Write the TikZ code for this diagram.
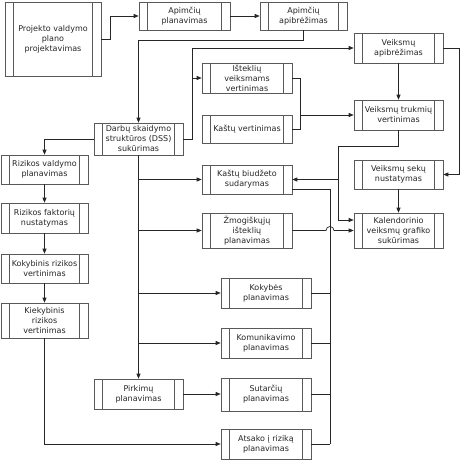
\documentclass[tikz,border=0pt]{standalone}
\usepackage{fontspec}
\setmainfont{DejaVu Sans}
\usetikzlibrary{arrows.meta,shadows}
\begin{document}
\begin{tikzpicture}[x=1pt,y=-1pt,
  proc/.style={draw=black!65, fill=white, line width=0.6pt, align=center, inner sep=1pt,
    text=black!85, font=\fontsize{8}{10}\selectfont,
    drop shadow={shadow xshift=0.8pt,shadow yshift=-0.8pt,fill=black!30,opacity=1},
    path picture={\draw[black!65, line width=0.6pt]
      ([xshift=8.5pt]path picture bounding box.north west) -- ([xshift=8.5pt]path picture bounding box.south west)
      ([xshift=-8.5pt]path picture bounding box.north east) -- ([xshift=-8.5pt]path picture bounding box.south east);}},
  sz/.style 2 args={minimum width=#1pt, minimum height=#2pt},
  conn/.style={draw=black!85, line width=0.7pt},
  arr/.style={conn, -{Triangle[length=5pt,width=4pt]}}]
\useasboundingbox (0,0) rectangle (460,460);

% nodes
\node[proc, sz={96}{74}] (proj) at (53,39) {Projekto valdymo\\plano\\projektavimas};
\node[proc, sz={91}{28}] (apl) at (184.5,16) {Apimčių\\planavimas};
\node[proc, sz={87}{28}] (apb) at (303.5,16) {Apimčių\\apibrėžimas};
\node[proc, sz={89}{32}] (dss) at (138.5,139) {Darbų skaidymo\\struktūros (DSS)\\sukūrimas};
\node[proc, sz={90}{30}] (ist) at (247,78) {Išteklių\\veiksmams\\vertinimas};
\node[proc, sz={90}{28}] (kv) at (247,129) {Kaštų vertinimas};
\node[proc, sz={89}{30}] (va) at (398.5,48) {Veiksmų\\apibrėžimas};
\node[proc, sz={89}{30}] (vt) at (398.5,115) {Veiksmų trukmių\\vertinimas};
\node[proc, sz={89}{29}] (vs) at (398.5,174.5) {Veiksmų sekų\\nustatymas};
\node[proc, sz={89}{35}] (kal) at (398.5,230.5) {Kalendorinio\\veiksmų grafiko\\sukūrimas};
\node[proc, sz={90}{29}] (kb) at (247,179.5) {Kaštų biudžeto\\sudarymas};
\node[proc, sz={90}{35}] (zm) at (247,230.5) {Žmogiškųjų\\išteklių\\planavimas};
\node[proc, sz={90}{30}] (kok) at (266,293) {Kokybės\\planavimas};
\node[proc, sz={90}{30}] (kom) at (266,343) {Komunikavimo\\planavimas};
\node[proc, sz={90}{33}] (sut) at (266,394.5) {Sutarčių\\planavimas};
\node[proc, sz={90}{30}] (ats) at (266,444) {Atsako į riziką\\planavimas};
\node[proc, sz={89}{30}] (pir) at (138.5,394) {Pirkimų\\planavimas};
\node[proc, sz={87}{29}] (rv) at (44.5,169.5) {Rizikos valdymo\\planavimas};
\node[proc, sz={87}{30}] (rf) at (44.5,218) {Rizikos faktorių\\nustatymas};
\node[proc, sz={87}{29}] (rk) at (44.5,268.5) {Kokybinis rizikos\\vertinimas};
\node[proc, sz={87}{35}] (rq) at (44.5,320.5) {Kiekybinis\\rizikos\\vertinimas};

% junction coordinates
\coordinate (jd) at (192,139);
\coordinate (ji) at (192,78);
\coordinate (jm) at (300,115);
\coordinate (jc) at (338,179.5);
\coordinate (bt) at (330,189);
\coordinate (bb) at (330,444);

% connectors
\draw[arr] (proj.east) -- ++(9,0) |- (apl.west);
\draw[arr] (apl.east) -- (apb.west);
\draw[arr] (apb.south) -- ++(0,10) -| (dss.north);
\draw[arr] (dss.east) -- (jd) |- (va.west);
\draw[arr] (ji) -- (ist.west);
\draw[conn] (ist.east) -| (jm);
\draw[conn] (kv.east) -| (jm);
\draw[arr] (jm) -- (vt.west);
\draw[arr] (va.south) -- (vt.north);
\draw[arr] (va.east) -- ++(16,0) |- (vs.east);
\draw[conn] (vt.south) -- ++(0,16) -| (jc);
\draw[arr] (jc) -- (kb.east);
\draw[arr] (jc) |- ([yshift=10.5pt]kal.west);
\draw[arr] (vs.south) -- (kal.north);
\draw[arr] (zm.east) -- (326,230.5) arc[start angle=180,end angle=0,radius=4pt] -- (kal.west);

% DSS trunk
\draw[arr] (dss.south) -- (pir.north);
\draw[arr] (dss.south |- kb.west) -- (kb.west);
\draw[arr] (dss.south |- zm.west) -- (zm.west);
\draw[arr] (dss.south |- kok.west) -- (kok.west);
\draw[arr] (dss.south |- kom.west) -- (kom.west);
\draw[arr] (pir.east) -- (pir.east -| sut.west);

% risk chain
\draw[arr] (dss.west) -| (rv.north);
\draw[arr] (rv.south) -- (rf.north);
\draw[arr] (rf.south) -- (rk.north);
\draw[arr] (rk.south) -- (rq.north);
\draw[arr] (rq.south) |- (ats.west);

% bus on the right of lower boxes
\draw[conn] ([yshift=-9.5pt]kb.east) -- (bt) -- (bb);
\draw[conn] (kok.east) -- (kok.east -| bt);
\draw[conn] (kom.east) -- (kom.east -| bt);
\draw[conn] (sut.east) -- (sut.east -| bt);
\draw[conn] (ats.east) -- (bb);
\end{tikzpicture}
\end{document}
